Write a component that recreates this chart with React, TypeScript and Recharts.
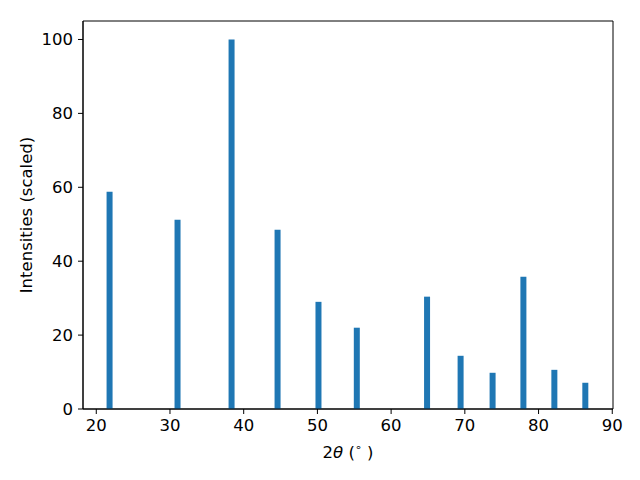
import React from 'react';
import { BarChart, Bar, XAxis, YAxis, ReferenceArea } from 'recharts';

// peak positions (2θ, degrees) and scaled intensities
const angles = [21.86, 31.08, 38.41, 44.65, 50.2, 55.4, 64.93, 69.48, 73.82, 78.0, 82.2, 86.4];
const intensities = [58.8, 51.2, 100, 48.5, 29.0, 22.0, 30.4, 14.4, 9.8, 35.8, 10.6, 7.1];
const xTicks = [20, 30, 40, 50, 60, 70, 80, 90];
const yTicks = [0, 20, 40, 60, 80, 100];
const xDomain = [18.2, 90.1];
const yDomain = [0, 105];

const data = angles.map((angle, i) => ({ angle, intensity: intensities[i] }));

const FONT = 'DejaVu Sans, sans-serif';
const tickStyle = { fontSize: 16.5, fill: '#000', fontFamily: FONT };

const XLabel = (props: any) => {
    const { viewBox } = props;
    const cx = viewBox.x + viewBox.width / 2;
    const cy = viewBox.y + 49;
    return (
        <text x={cx} y={cy} textAnchor="middle" fontSize={16.5} fontFamily={FONT} fill="#000">
            2<tspan fontStyle="italic">θ</tspan> (<tspan fontSize={11} dy={-7}>∘</tspan><tspan dy={7}> )</tspan>
        </text>
    );
};

const YLabel = (props: any) => {
    const { viewBox } = props;
    const cx = viewBox.x + 32;
    const cy = viewBox.y + viewBox.height / 2;
    return (
        <text
            x={cx}
            y={cy}
            textAnchor="middle"
            fontSize={16.5}
            fontFamily={FONT}
            fill="#000"
            transform={`rotate(-90 ${cx} ${cy})`}
        >
            Intensities (scaled)
        </text>
    );
};

export default function App() {
    return (
        <div style={{ position: 'fixed', left: 0, top: 0, width: 640, height: 480, background: '#fff' }}>
            <BarChart
                width={640}
                height={480}
                data={data}
                margin={{ top: 21, right: 27, left: 0, bottom: 0 }}
                barSize={6}
            >
                <XAxis
                    dataKey="angle"
                    type="number"
                    domain={xDomain}
                    ticks={xTicks}
                    allowDataOverflow
                    height={71}
                    tick={tickStyle}
                    tickSize={5}
                    tickMargin={5}
                    axisLine={{ stroke: '#000' }}
                    tickLine={{ stroke: '#000' }}
                    label={<XLabel />}
                />
                <YAxis
                    type="number"
                    domain={yDomain}
                    ticks={yTicks}
                    width={83}
                    tick={tickStyle}
                    tickSize={5}
                    tickMargin={5}
                    axisLine={{ stroke: '#000' }}
                    tickLine={{ stroke: '#000' }}
                    label={<YLabel />}
                />
                <Bar dataKey="intensity" fill="#1f77b4" isAnimationActive={false} />
                {/* axes frame (top and right spines) */}
                <ReferenceArea
                    x1={xDomain[0]}
                    x2={xDomain[1]}
                    y1={yDomain[0]}
                    y2={yDomain[1]}
                    fill="none"
                    fillOpacity={0}
                    stroke="#000"
                    strokeOpacity={1}
                    strokeWidth={1}
                    ifOverflow="visible"
                />
            </BarChart>
        </div>
    );
}
